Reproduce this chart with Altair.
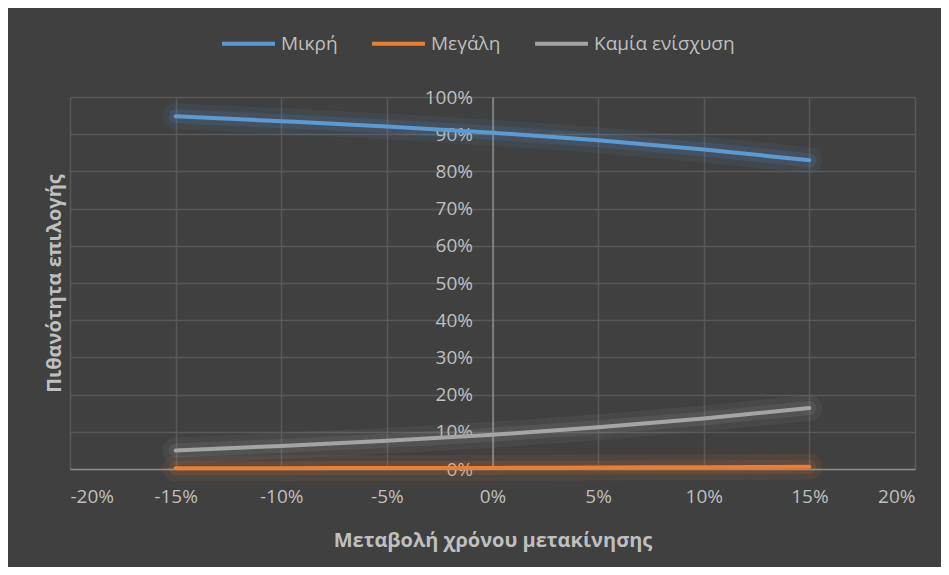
import altair as alt
import pandas as pd

# ---- data ----
x_vals = [-0.15, -0.10, -0.05, 0.0, 0.05, 0.10, 0.15]
mikri = [0.948, 0.935, 0.921, 0.904, 0.884, 0.859, 0.830]
megali = [0.002, 0.002, 0.003, 0.003, 0.004, 0.005, 0.006]
kamia = [0.050, 0.062, 0.076, 0.092, 0.112, 0.136, 0.164]
series = ["Μικρή", "Μεγάλη", "Καμία ενίσχυση"]
colors = ["#5B9BD5", "#ED7D31", "#A5A5A5"]
x_ticks = [-0.20, -0.15, -0.10, -0.05, 0.0, 0.05, 0.10, 0.15, 0.20]
y_ticks = [0.0, 0.1, 0.2, 0.3, 0.4, 0.5, 0.6, 0.7, 0.8, 0.9, 1.0]

rows = []
for name, vals in zip(series, [mikri, megali, kamia]):
    for xv, yv in zip(x_vals, vals):
        rows.append({"x": xv, "y": yv, "s": name})
df = pd.DataFrame(rows)

FONT = "Open Sans"
TXT = "#BFBFBF"
GRID = "#595959"
AXISLINE = "#8C8C8C"
W, H = 845, 372

x_enc = alt.X(
    "x:Q",
    scale=alt.Scale(domain=[-0.2, 0.2], nice=False, zero=False),
    axis=alt.Axis(
        values=x_ticks,
        labelExpr="(datum.value < -0.0001 ? '-' : '') + format(abs(datum.value), '.0%')",
        grid=True, gridColor=GRID, gridWidth=1.5,
        domain=True, domainColor=AXISLINE, domainWidth=1.5,
        ticks=False,
        labelColor=TXT, labelFont=FONT, labelFontSize=19, labelPadding=18,
        title="Μεταβολή χρόνου μετακίνησης",
        titleColor=TXT, titleFont=FONT, titleFontSize=20, titleFontWeight="bold",
        titlePadding=24,
    ),
)

y_enc = alt.Y(
    "y:Q",
    scale=alt.Scale(domain=[0, 1], nice=False),
    axis=alt.Axis(
        values=y_ticks,
        format=".0%",
        offset=-W / 2,
        grid=True, gridColor=GRID, gridWidth=1.5,
        domain=True, domainColor=AXISLINE, domainWidth=1.5,
        ticks=False,
        labelColor=TXT, labelFont=FONT, labelFontSize=19, labelPadding=20,
        title="Πιθανότητα επιλογής",
        titleColor=TXT, titleFont=FONT, titleFontSize=20, titleFontWeight="bold",
        titleX=-W / 2 - 16, titleY=H / 2, titleAngle=270,
        titleBaseline="middle", titleAlign="center",
    ),
)

base = alt.Chart(df)

glows = []
for name, col in zip(series, colors):
    sub = base.transform_filter(alt.datum.s == name)
    glows.append(
        sub.mark_line(interpolate="monotone", strokeWidth=26, opacity=0.08,
                      strokeCap="round", color=col).encode(x=x_enc, y=y_enc)
    )
    glows.append(
        sub.mark_line(interpolate="monotone", strokeWidth=14, opacity=0.13,
                      strokeCap="round", color=col).encode(x=x_enc, y=y_enc)
    )

lines = base.mark_line(interpolate="monotone", strokeWidth=4, strokeCap="round").encode(
    x=x_enc,
    y=y_enc,
    color=alt.Color(
        "s:N",
        scale=alt.Scale(domain=series, range=colors),
        legend=alt.Legend(
            orient="none", legendX=150, legendY=-82, direction="horizontal",
            title=None, symbolType="stroke", symbolStrokeWidth=4, symbolSize=2800,
            labelColor=TXT, labelFont=FONT, labelFontSize=19, labelOffset=4,
            columnPadding=26,
        ),
    ),
)

chart = (
    alt.layer(*glows, lines)
    .properties(
        width=W, height=H,
        padding={"left": 62, "top": 89, "right": 26, "bottom": 98},
        autosize=alt.AutoSizeParams(type="none"),
        background="#404040",
    )
    .configure_view(stroke=None)
)

chart.save("out.html", embed_options={"renderer": "svg", "actions": False})
